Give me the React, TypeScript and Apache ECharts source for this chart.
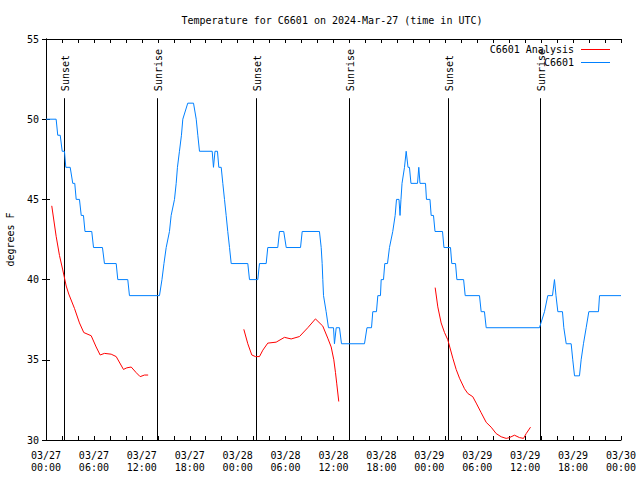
import React, { useEffect, useRef } from "react";
import * as echarts from "echarts";

// ---- data (hours since 03/27 00:00 UTC) ----
const xTickLabels = [
  "03/27\n00:00", "03/27\n06:00", "03/27\n12:00", "03/27\n18:00",
  "03/28\n00:00", "03/28\n06:00", "03/28\n12:00", "03/28\n18:00",
  "03/29\n00:00", "03/29\n06:00", "03/29\n12:00", "03/29\n18:00",
  "03/30\n00:00",
];

const stationHours = [
  0.0, 1.27, 1.47, 1.78, 2.03, 2.31, 2.48, 3.03, 3.35, 3.6, 3.78, 4.19, 4.41, 4.69, 4.88,
  5.73, 5.95, 7.07, 7.32, 8.79, 8.99, 10.24, 10.45, 14.21, 14.52, 14.77, 15.05, 15.46, 15.67,
  16.09, 16.3, 16.46, 16.71, 16.96, 17.13, 17.75, 18.47, 18.81, 19.01, 19.22, 20.81, 20.97,
  21.16, 21.47, 21.64, 21.94, 22.14, 22.35, 22.56, 22.76, 22.98, 23.19, 25.27, 25.48, 26.52,
  26.73, 27.57, 27.77, 29.02, 29.24, 29.77, 30.08, 31.87, 32.08, 34.24, 34.46, 34.58, 34.66,
  34.75, 35.08, 35.37, 36.0, 36.12, 36.34, 36.75, 37.0, 39.88, 40.19, 40.76, 40.92, 41.38,
  41.55, 41.88, 41.97, 42.26, 42.42, 42.76, 43.01, 43.42, 43.72, 43.89, 44.2, 44.33, 44.45,
  44.58, 44.89, 45.1, 45.33, 45.51, 45.7, 46.52, 46.68, 46.83, 47.52, 47.64, 48.08, 48.23,
  48.52, 48.71, 49.65, 49.83, 50.65, 50.81, 51.28, 51.45, 52.29, 52.49, 54.28, 54.49, 54.9,
  55.12, 61.79, 62.42, 62.83, 63.42, 63.67, 63.86, 64.09, 64.67, 64.84, 65.14, 65.76, 65.96,
  66.18, 66.8, 67.01, 67.3, 67.64, 67.97, 69.18, 69.31, 72.0,
];
const stationTemps = [
  50, 50, 49, 49, 48, 48, 47, 47, 46, 46, 45, 45, 44, 44, 43,
  43, 42, 42, 41, 41, 40, 40, 39, 39, 40, 41, 42, 43, 44,
  45, 46, 47, 48, 49, 50, 51, 51, 50, 49, 48, 48, 47,
  48, 48, 47, 47, 46, 45, 44, 43, 42, 41, 41, 40, 40,
  41, 41, 42, 42, 43, 43, 42, 42, 43, 43, 42, 41, 40,
  39, 38, 37, 37, 36, 37, 37, 36, 36, 37, 37, 38, 38,
  39, 39, 40, 40, 41, 41, 42, 43, 44, 45, 45, 44, 45,
  46, 47, 48, 47, 47, 46, 46, 47, 46, 46, 45, 45, 44,
  44, 43, 43, 42, 42, 41, 41, 40, 40, 39, 39, 38, 38,
  37, 37, 38, 39, 39, 40, 39, 38, 38, 37, 36, 36, 35,
  34, 34, 35, 36, 37, 38, 38, 39, 39,
];

const analysis1Hours = [0.72, 1.27, 1.69, 2.1, 2.53, 2.85, 3.57, 4.19, 4.73, 5.66, 6.28, 6.78, 7.32, 8.16, 8.79, 9.7, 10.12, 10.67, 11.29, 11.79, 12.33, 12.79];
const analysis1Temps = [44.6, 42.7, 41.5, 40.6, 39.6, 39.1, 38.2, 37.3, 36.7, 36.5, 35.8, 35.3, 35.4, 35.35, 35.2, 34.4, 34.5, 34.55, 34.2, 33.95, 34.05, 34.05];
const analysis2Hours = [24.77, 25.27, 25.77, 26.23, 26.73, 27.15, 27.77, 28.82, 29.86, 30.7, 31.74, 32.78, 33.74, 34.66, 35.28, 35.71, 36.04, 36.25, 36.41, 36.66];
const analysis2Temps = [36.9, 36.0, 35.3, 35.2, 35.2, 35.6, 36.04, 36.1, 36.4, 36.3, 36.45, 37.0, 37.55, 37.1, 36.35, 35.8, 35.0, 34.2, 33.5, 32.4];
const analysis3Hours = [48.73, 49.06, 49.48, 49.9, 50.31, 50.94, 51.36, 51.78, 52.4, 52.82, 53.44, 53.87, 54.49, 55.12, 55.74, 56.37, 57.0, 57.62, 58.03, 58.66, 59.29, 59.79, 60.13, 60.67];
const analysis3Temps = [39.5, 38.3, 37.3, 36.7, 36.25, 35.1, 34.4, 33.85, 33.2, 32.9, 32.7, 32.3, 31.7, 31.1, 30.8, 30.4, 30.2, 30.1, 30.15, 30.3, 30.15, 30.1, 30.4, 30.8];

const sunHours = [2.23, 13.87, 26.27, 37.91, 50.31, 61.83];
const sunLabels = ["Sunset", "Sunrise", "Sunset", "Sunrise", "Sunset", "Sunrise"];

const FONT = "DejaVu Sans Mono";
const RED = "#ff0000";
const BLUE = "#0080ff";

export default function App() {
  const ref = useRef<HTMLDivElement>(null);
  useEffect(() => {
    if (!ref.current) return;
    const chart = echarts.init(ref.current, undefined, { renderer: "svg" });

    const stationData = stationHours.map((t, i) => [t, stationTemps[i]]);
    const analysisData: any[] = [];
    const segs = [
      [analysis1Hours, analysis1Temps],
      [analysis2Hours, analysis2Temps],
      [analysis3Hours, analysis3Temps],
    ];
    segs.forEach(([hs, vs], k) => {
      if (k > 0) analysisData.push([(hs[0] as number) - 0.01, "-"]);
      hs.forEach((t, i) => analysisData.push([t, vs[i]]));
    });

    const xBase = {
      type: "value" as const,
      min: 0,
      max: 72,
      interval: 6,
      axisLine: { show: true, lineStyle: { color: "#000", width: 1 } },
      axisTick: { show: true, inside: true, length: 4, lineStyle: { color: "#000" } },
      minorTick: { show: true, splitNumber: 3, length: 4, lineStyle: { color: "#000" } },
      splitLine: { show: false },
      minorSplitLine: { show: false },
    };
    const yBase = {
      type: "value" as const,
      min: 30,
      max: 55,
      interval: 5,
      axisLine: { show: true, lineStyle: { color: "#000", width: 1 } },
      axisTick: { show: true, inside: true, length: 4, lineStyle: { color: "#000" } },
      splitLine: { show: false },
    };

    chart.setOption({
      animation: false,
      backgroundColor: "#fff",
      textStyle: { fontFamily: FONT },
      grid: { left: 46, right: 19, top: 39, bottom: 40, containLabel: false, outerBoundsMode: "none" },
      xAxis: [
        {
          ...xBase,
          position: "bottom",
          axisLabel: {
            show: true,
            color: "#000",
            fontFamily: FONT,
            fontSize: 10,
            lineHeight: 12,
            margin: 9,
            formatter: (v: number) => xTickLabels[Math.round(v / 6)] ?? "",
          },
        },
        { ...xBase, position: "top", axisLabel: { show: false } },
      ],
      yAxis: [
        {
          ...yBase,
          position: "left",
          name: "degrees F",
          nameLocation: "middle",
          nameRotate: 90,
          nameGap: 31,
          nameTextStyle: { color: "#000", fontFamily: FONT, fontSize: 10 },
          axisLabel: { color: "#000", fontFamily: FONT, fontSize: 10, margin: 7 },
        },
        { ...yBase, position: "right", axisLabel: { show: false } },
      ],
      series: [
        {
          type: "custom",
          name: "sun",
          xAxisIndex: 0,
          yAxisIndex: 0,
          silent: true,
          data: sunHours.map((t) => [t, 30]),
          encode: { x: 0, y: 1 },
          renderItem: (params: any, api: any) => {
            const t = api.value(0);
            const b = api.coord([t, 30]);
            const tp = api.coord([t, 51.31]);
            const lb = api.coord([t, 51.75]);
            const x = Math.round(b[0]) + 0.5;
            return {
              type: "group",
              children: [
                {
                  type: "line",
                  shape: { x1: x, y1: b[1], x2: x, y2: tp[1] },
                  style: { stroke: "#000", lineWidth: 1 },
                },
                {
                  type: "text",
                  x: x + 1,
                  y: lb[1],
                  rotation: Math.PI / 2,
                  style: {
                    text: sunLabels[params.dataIndex],
                    fontFamily: FONT,
                    fontSize: 10,
                    fill: "#000",
                    align: "left",
                    verticalAlign: "middle",
                  },
                },
              ],
            };
          },
        },
        {
          type: "line",
          name: "C6601",
          xAxisIndex: 0,
          yAxisIndex: 0,
          data: stationData,
          symbol: "none",
          lineStyle: { color: BLUE, width: 1 },
          itemStyle: { color: BLUE },
        },
        {
          type: "line",
          name: "C6601 Analysis",
          xAxisIndex: 0,
          yAxisIndex: 0,
          data: analysisData,
          connectNulls: false,
          symbol: "none",
          lineStyle: { color: RED, width: 1 },
          itemStyle: { color: RED },
        },
      ],
      graphic: [
        {
          type: "text",
          x: 332,
          y: 20,
          style: {
            text: "Temperature for C6601 on 2024-Mar-27 (time in UTC)",
            fontFamily: FONT,
            fontSize: 10,
            fill: "#000",
            align: "center",
            verticalAlign: "middle",
          },
        },
        {
          type: "text",
          x: 574,
          y: 49,
          style: { text: "C6601 Analysis", fontFamily: FONT, fontSize: 10, fill: "#000", align: "right", verticalAlign: "middle" },
        },
        {
          type: "line",
          shape: { x1: 581, y1: 49.5, x2: 610, y2: 49.5 },
          style: { stroke: RED, lineWidth: 1 },
        },
        {
          type: "text",
          x: 574,
          y: 62,
          style: { text: "C6601", fontFamily: FONT, fontSize: 10, fill: "#000", align: "right", verticalAlign: "middle" },
        },
        {
          type: "line",
          shape: { x1: 581, y1: 62.5, x2: 610, y2: 62.5 },
          style: { stroke: BLUE, lineWidth: 1 },
        },
      ],
    });
    return () => chart.dispose();
  }, []);
  return (
    <div
      ref={ref}
      style={{ position: "fixed", left: 0, top: 0, width: 640, height: 480 }}
    />
  );
}
